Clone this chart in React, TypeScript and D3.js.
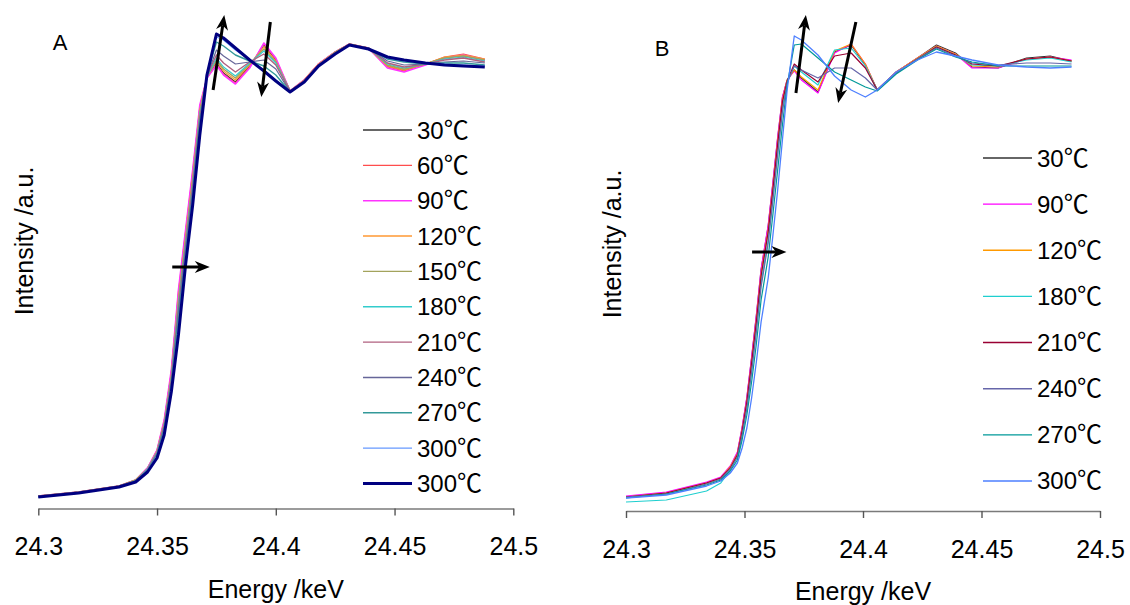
import React, { useEffect, useRef } from 'react';
import * as d3 from 'd3';

// ---------- Panel A data ----------
const energyA = [24.300, 24.317, 24.334, 24.341, 24.346, 24.350, 24.353, 24.356, 24.359, 24.362, 24.365, 24.368, 24.371, 24.375, 24.378, 24.383, 24.389, 24.395, 24.400, 24.406, 24.412, 24.418, 24.425, 24.431, 24.439, 24.447, 24.454, 24.463, 24.471, 24.479, 24.488];
const labelsA = ['30', '60', '90', '120', '150', '180', '210', '240', '270', '300', '300'];
const colorsA = ['#333333', '#FF4D4D', '#FF33FF', '#FF9933', '#A3A35C', '#33CCCC', '#B0607F', '#666699', '#339999', '#6699FF', '#000080'];
const widthsA = [1.2, 1.2, 1.6, 1.2, 1.4, 1.2, 1.4, 1.2, 1.4, 1.2, 3];
const a30 = [0, 1, 2.5, 4, 7, 11.25, 18.5, 30.75, 50.25, 65.5, 80.5, 97, 104.5, 108.25, 105.75, 103.5, 107.5, 112.75, 109, 101.25, 104, 108, 111, 113, 112, 107.5, 106.5, 108, 109.5, 110.25, 109];
const a60 = [0, 1, 2.5, 4, 7, 11.5, 18.75, 31, 51, 66, 81, 97.25, 104.5, 108, 105.5, 103.25, 107.25, 113, 109.25, 101.25, 104, 108, 111, 113, 112, 107.25, 106.25, 108, 109.75, 110.5, 109.25];
const a90 = [0, 1, 2.5, 4, 7, 11.5, 19, 31.5, 51.5, 66.5, 81.5, 97.75, 104.5, 107.75, 105.25, 103, 107, 113.25, 109.5, 101.25, 104, 108, 111, 113, 112, 107, 106, 107.75, 109.5, 110.25, 109];
const a120 = [0, 1, 2.5, 4, 6.75, 11.25, 18.25, 30.25, 49.5, 64.75, 79.75, 96.5, 104.75, 108.75, 106.25, 104, 107.75, 112.25, 108.75, 101.25, 104, 108, 111, 113, 112, 107.5, 106.5, 108, 109.75, 110.25, 109.25];
const a150 = [0, 1, 2.5, 4, 6.75, 11, 18, 29.75, 48.75, 64, 79, 96, 104.75, 109, 106.75, 104.5, 108, 111.75, 108.5, 101.25, 103.75, 107.75, 111, 113, 112, 107.75, 106.75, 108, 109.5, 110, 109];
const a180 = [0, 1, 2.5, 3.75, 6.75, 11, 17.75, 29.5, 48, 63.25, 78.25, 95.5, 104.75, 109.5, 107.25, 105, 108.25, 111.25, 108.25, 101.25, 103.75, 107.75, 110.75, 112.75, 112, 108, 107, 108, 109.25, 109.75, 108.75];
const a210 = [0, 1, 2.5, 3.75, 6.5, 10.75, 17.5, 29, 47, 62.5, 77.5, 94.75, 105, 110.25, 108.25, 106, 108.5, 110.5, 107.75, 101.25, 103.75, 107.75, 110.75, 112.75, 112, 108.25, 107.25, 108, 109, 109.5, 108.5];
const a240 = [-0.25, 0.75, 2.5, 3.75, 6.5, 10.5, 17, 28.25, 45.75, 61.5, 76.5, 94, 105, 111.5, 110, 108, 108.5, 109, 106.75, 101, 103.75, 107.75, 110.75, 112.75, 112, 108.75, 107.75, 108, 108.5, 108.75, 108.25];
const a270 = [-0.25, 0.75, 2.25, 3.75, 6.25, 10.25, 16.5, 27.5, 44, 60.25, 75.25, 92.75, 105.25, 113.5, 112.5, 110.25, 108.75, 107.5, 105.25, 101, 103.5, 107.5, 110.5, 112.75, 111.75, 109.25, 108.5, 108, 108.25, 108.25, 107.75];
const a300 = [-0.25, 0.75, 2.25, 3.5, 6.25, 10, 16, 26.75, 42, 59, 74, 91.5, 105.25, 114.75, 114, 111.5, 109, 106.5, 104, 101, 103.5, 107.5, 110.5, 112.75, 111.75, 109.5, 108.75, 108.25, 108, 107.75, 107.5];
const a300b = [-0.25, 0.75, 2.25, 3.5, 6, 9.5, 15.25, 26, 40.25, 57.75, 72.75, 90.25, 105.25, 115.5, 114.5, 112, 109, 106.25, 103.75, 101, 103.5, 107.5, 110.5, 112.75, 111.75, 109.75, 109, 108.25, 107.75, 107.5, 107.25];
const valuesA = [a30, a60, a90, a120, a150, a180, a210, a240, a270, a300, a300b];

// ---------- Panel B data ----------
const energyB = [24.300, 24.317, 24.334, 24.340, 24.344, 24.347, 24.349, 24.351, 24.353, 24.355, 24.357, 24.360, 24.362, 24.364, 24.366, 24.368, 24.371, 24.374, 24.381, 24.388, 24.395, 24.401, 24.406, 24.414, 24.423, 24.431, 24.439, 24.446, 24.457, 24.469, 24.479, 24.488];
const labelsB = ['30', '90', '120', '180', '210', '240', '270', '300'];
const colorsB = ['#333333', '#FF00FF', '#FF9900', '#1FCFCF', '#990033', '#6666AA', '#009999', '#4D7FFF'];
const b30 = [0.25, 1.25, 3.75, 5, 7.75, 11.25, 17.5, 25, 35, 45.5, 57, 68, 78.75, 90, 100, 104.5, 107, 105, 101.5, 111.5, 113.25, 108.25, 102, 106.5, 110, 113.25, 111.25, 107.75, 107.5, 110, 110.5, 109.25];
const b90 = [0.5, 1.5, 4, 5.25, 8, 11.5, 17.75, 25.25, 35.25, 45.75, 57.25, 68.25, 79, 90.25, 100.25, 104.5, 106.75, 104.5, 101.25, 111.25, 113.5, 108.5, 102, 106.5, 110, 113, 111, 107.5, 107.5, 109.75, 110.25, 109.5];
const b120 = [0.25, 1.25, 3.75, 5, 7.75, 11, 17, 24.25, 34, 44.5, 56, 67, 77.75, 89, 99.5, 104.5, 107, 105.25, 102, 111.75, 113.5, 108.5, 102, 106.5, 110, 113, 111, 108, 107.75, 109.75, 110.25, 109.25];
const b180 = [-1, -0.5, 1.75, 3.75, 7, 10.25, 15.75, 22.75, 32, 42.5, 53.75, 64.5, 75.25, 86.5, 97.5, 104, 108, 106.5, 103.25, 112, 112.5, 108, 102, 106.25, 109.75, 112.75, 110.75, 108.25, 108, 109.5, 110, 109];
const b210 = [0.25, 1.25, 3.75, 5, 7.5, 10.75, 16.75, 24, 33.75, 44, 55.5, 66.5, 77.25, 88.5, 99, 104.25, 108.5, 107, 104, 110.5, 111.25, 107.5, 102, 106.25, 109.75, 112.75, 110.75, 108.5, 108, 109.75, 110.25, 109.25];
const b240 = [0.25, 1, 3.5, 4.75, 7.25, 10.25, 15.75, 22.5, 31.5, 41.5, 52.75, 63.75, 74.5, 85.75, 96.5, 103.75, 108, 107, 105, 107.5, 107.5, 105, 102, 106.25, 109.75, 112.5, 110.5, 108.75, 108.25, 108.75, 108.75, 108.5];
const b270 = [0, 1, 3.25, 4.5, 6.75, 9.5, 14.5, 20.75, 29, 38.5, 49.5, 60.25, 71, 82, 93.25, 103.25, 113.25, 113.5, 110, 106.5, 104.5, 102.75, 101.75, 106, 109.5, 112.25, 110.25, 109, 108, 108, 108, 108];
const b300 = [0, 0.75, 3, 4.25, 6.25, 8.75, 12.5, 17.5, 25, 34, 44, 55, 65.75, 77, 89.5, 102, 115.5, 114.5, 110.75, 105.5, 102, 100.25, 102, 106.5, 109.5, 111.5, 110.5, 109.5, 108.25, 107.75, 107.5, 107.75];
const valuesB = [b30, b90, b120, b180, b210, b240, b270, b300];

// ---------- Axis ticks ----------
const tickValues = [24.3, 24.35, 24.4, 24.45, 24.5];
const tickLabels = ['24.3', '24.35', '24.4', '24.45', '24.5'];
const unit = '℃';

// Arrow annotations in data space: [E1, I1, E2, I2]
const arrowsA = [
  [24.3736, 101.5, 24.3783, 120.25],
  [24.3977, 118.5, 24.3939, 99.75],
  [24.3564, 57.25, 24.3722, 57.25],
];
const arrowsB = [
  [24.3717, 101.25, 24.3759, 120.75],
  [24.3970, 119, 24.3895, 98.75],
  [24.3532, 61.5, 24.3677, 61.5],
];

const FONT = '"Liberation Sans", Arial, "Noto Sans CJK SC", sans-serif';
const CJK = '"Noto Sans CJK SC", "Noto Sans CJK JP", sans-serif';

function Arrow({ x1, y1, x2, y2 }: { x1: number; y1: number; x2: number; y2: number }) {
  const dx = x2 - x1, dy = y2 - y1;
  const len = Math.hypot(dx, dy);
  const ux = dx / len, uy = dy / len;
  const hl = 15, hw = 6;
  const bx = x2 - ux * hl, by = y2 - uy * hl;
  const nx = x2 - ux * (hl * 0.7), ny = y2 - uy * (hl * 0.7);
  const px = -uy, py = ux;
  return (
    <g>
      <line x1={x1} y1={y1} x2={nx} y2={ny} stroke="#000" strokeWidth={3} />
      <polygon
        points={`${x2},${y2} ${bx + px * hw},${by + py * hw} ${nx},${ny} ${bx - px * hw},${by - py * hw}`}
        fill="#000"
      />
    </g>
  );
}

type PanelProps = {
  energy: number[];
  values: number[][];
  labels: string[];
  colors: string[];
  widths: number[];
  xRange: [number, number];
  yRange: [number, number];
  axisY: number;
  arrows: number[][];
  letter: string;
  letterPos: [number, number];
  yTitlePos: [number, number];
  xTitleY: number;
  legendX: number;
  legendY0: number;
  legendStep: number;
};

function Panel(p: PanelProps) {
  const axisRef = useRef<SVGGElement>(null);
  const x = d3.scaleLinear().domain([24.3, 24.5]).range(p.xRange);
  const y = d3.scaleLinear().domain([0, 100]).range(p.yRange);

  useEffect(() => {
    if (!axisRef.current) return;
    const axis = d3
      .axisBottom(x)
      .tickValues(tickValues)
      .tickFormat((d, i) => tickLabels[i])
      .tickSize(7)
      .tickSizeOuter(0)
      .tickPadding(22);
    const g = d3.select(axisRef.current);
    g.call(axis as any);
    g.select('.domain').attr('stroke', '#7a7a7a').attr('stroke-width', 1.6);
    g.selectAll('.tick line').attr('stroke', '#555').attr('stroke-width', 1.4);
    g.selectAll('.tick text')
      .attr('fill', '#000')
      .style('font-family', FONT)
      .style('font-size', '25px');
  });

  const line = d3
    .line<number>()
    .x((_, i) => x(p.energy[i]))
    .y((d) => y(d));

  const xMid = (p.xRange[0] + p.xRange[1]) / 2;

  return (
    <g>
      <g ref={axisRef} transform={`translate(0,${p.axisY})`} />
      {p.values.map((vals, i) => (
        <path
          key={i}
          d={line(vals) || ''}
          fill="none"
          stroke={p.colors[i]}
          strokeWidth={p.widths[i]}
          strokeLinejoin="round"
        />
      ))}
      {p.arrows.map((a, i) => (
        <Arrow key={i} x1={x(a[0])} y1={y(a[1])} x2={x(a[2])} y2={y(a[3])} />
      ))}
      {p.labels.map((lab, i) => {
        const ly = p.legendY0 + i * p.legendStep;
        return (
          <g key={i}>
            <line x1={p.legendX} x2={p.legendX + 49} y1={ly} y2={ly} stroke={p.colors[i]} strokeWidth={p.widths[i] > 2 ? 3 : 1.4} />
            <text x={p.legendX + 54} y={ly + 8.5} fontSize={24} fontFamily={FONT} fill="#000">
              {lab}
              <tspan fontFamily={CJK} fontSize={25}>{unit}</tspan>
            </text>
          </g>
        );
      })}
      <text x={p.letterPos[0]} y={p.letterPos[1]} fontSize={22} fontFamily={FONT} textAnchor="middle" fill="#000">
        {p.letter}
      </text>
      <text
        transform={`translate(${p.yTitlePos[0]},${p.yTitlePos[1]}) rotate(-90)`}
        fontSize={25}
        fontFamily={FONT}
        textAnchor="middle"
        fill="#000"
      >
        Intensity /a.u.
      </text>
      <text x={xMid} y={p.xTitleY} fontSize={25} fontFamily={FONT} textAnchor="middle" fill="#000">
        Energy /keV
      </text>
    </g>
  );
}

export default function App() {
  return (
    <div style={{ position: 'absolute', left: 0, top: 0, width: 1130, height: 605, background: '#fff' }}>
      <svg width={1130} height={605} style={{ display: 'block' }}>
        <rect width={1130} height={605} fill="#fff" />
        <Panel
          energy={energyA}
          values={valuesA}
          labels={labelsA}
          colors={colorsA}
          widths={widthsA}
          xRange={[38.3, 513.3]}
          yRange={[496, 96]}
          axisY={508.5}
          arrows={arrowsA}
          letter="A"
          letterPos={[60, 50]}
          yTitlePos={[33, 241]}
          xTitleY={598}
          legendX={363}
          legendY0={130}
          legendStep={35.35}
        />
        <Panel
          energy={energyB}
          values={valuesB}
          labels={labelsB}
          colors={colorsB}
          widths={[1.2, 1.2, 1.2, 1.2, 1.2, 1.2, 1.2, 1.3]}
          xRange={[626, 1100]}
          yRange={[498, 98]}
          axisY={511}
          arrows={arrowsB}
          letter="B"
          letterPos={[662, 56]}
          yTitlePos={[621, 244]}
          xTitleY={600}
          legendX={983}
          legendY0={158}
          legendStep={46.14}
        />
      </svg>
    </div>
  );
}
